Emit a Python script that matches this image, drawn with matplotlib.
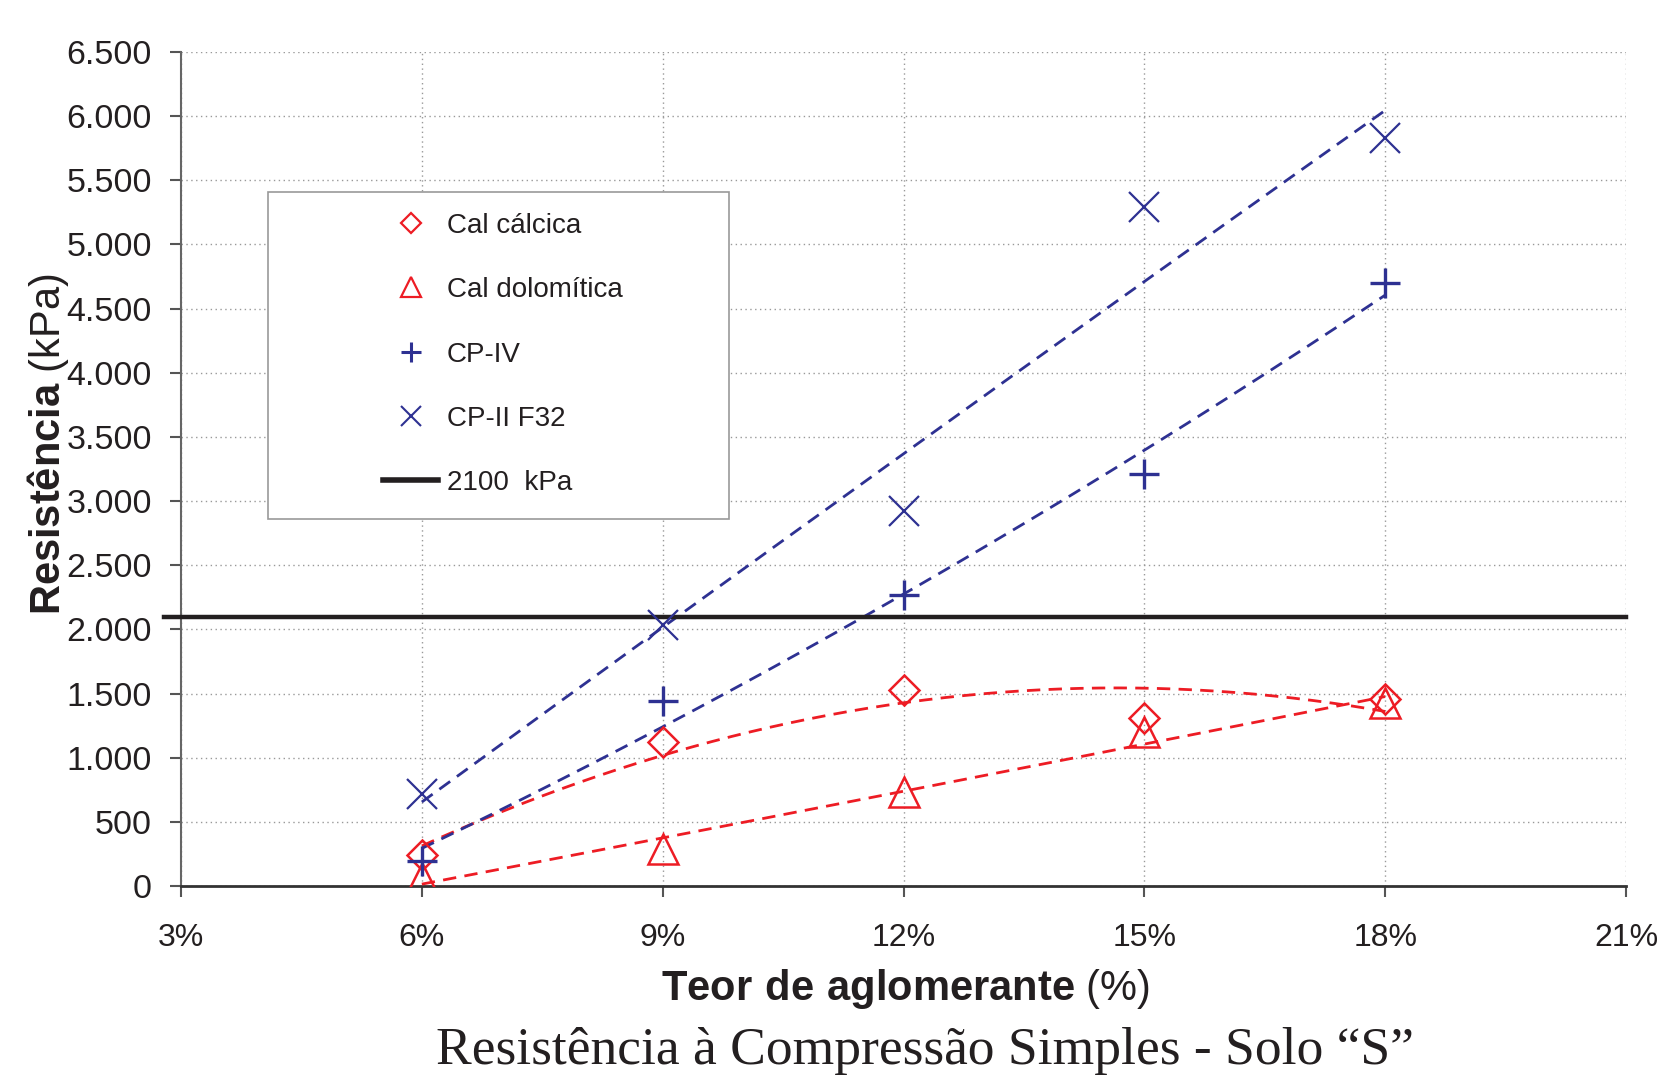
import numpy as np
import matplotlib
matplotlib.use("Agg")
import matplotlib.pyplot as plt
from matplotlib.lines import Line2D
from matplotlib.patches import Rectangle
from matplotlib.ticker import FuncFormatter, MultipleLocator

plt.rcParams['font.family'] = ['Liberation Sans', 'DejaVu Sans']
plt.rcParams['mathtext.fontset'] = 'custom'
plt.rcParams['mathtext.rm'] = 'Liberation Sans'
plt.rcParams['mathtext.bf'] = 'Liberation Sans:bold'

# teor de aglomerante (%)
teor = [6, 9, 12, 15, 18]

# resistencia (kPa)
cal_calcica = [245, 1120, 1525, 1310, 1460]
cal_dolomitica = [60, 285, 735, 1200, 1430]
cp_iv = [195, 1440, 2265, 3210, 4700]
cp_ii_f32 = [720, 2035, 2920, 5290, 5830]

limite = 2100

RED = '#ED1C24'
BLUE = '#2E3192'
BLACK = '#231F20'

fig = plt.figure(figsize=(16.61, 10.75), dpi=100)
ax = fig.add_axes([181/1661, 1 - 886/1075, (1626 - 181)/1661, (886 - 52)/1075])

# linhas de tendencia (polinomial 2a ordem)
xs = np.linspace(min(teor), max(teor), 200)
for ys, c in [(cal_calcica, RED), (cal_dolomitica, RED), (cp_iv, BLUE), (cp_ii_f32, BLUE)]:
    p = np.polyfit(teor, ys, 2)
    ax.plot(xs, np.polyval(p, xs), color=c, lw=2.0, ls=(0, (4.8, 3.0)), zorder=3)

ax.axhline(limite, xmin=-0.012, xmax=1, color=BLACK, lw=3.2, clip_on=False, zorder=4)

ax.plot(teor, cal_calcica, ls='none', marker='D', ms=15, mfc='none', mec=RED, mew=1.8, zorder=5)
ax.plot(teor, cal_dolomitica, ls='none', marker='^', ms=22, mfc='none', mec=RED, mew=1.8, zorder=5)
ax.plot(teor, cp_iv, ls='none', marker='+', ms=22, mec=BLUE, mew=2.4, zorder=5)
ax.plot(teor, cp_ii_f32, ls='none', marker='x', ms=22, mec=BLUE, mew=1.6, zorder=5)

ax.set_xlim(3, 21)
ax.set_ylim(0, 6500)
ax.xaxis.set_major_locator(MultipleLocator(3))
ax.yaxis.set_major_locator(MultipleLocator(500))
ax.xaxis.set_major_formatter(FuncFormatter(lambda v, p: f"{v:.0f}%"))
ax.yaxis.set_major_formatter(FuncFormatter(lambda v, p: f"{v:,.0f}".replace(",", ".")))

ax.grid(True, color='#999999', ls=(0, (1, 2.5)), lw=1.0)
ax.set_axisbelow(True)
for s in ['top', 'right']:
    ax.spines[s].set_visible(False)
ax.spines['left'].set_color('#666666')
ax.spines['left'].set_linewidth(1.5)
ax.spines['bottom'].set_color('#333333')
ax.spines['bottom'].set_linewidth(2)
ax.tick_params(axis='both', direction='out', length=8, width=1.5, color='#555555',
               labelcolor=BLACK)
ax.tick_params(axis='x', pad=19, labelsize=23)
ax.tick_params(axis='y', pad=13, labelsize=24.5)

fig.text(0.029, 0.587, r"$\mathbf{Resistência}$ (kPa)", rotation=90, ha='center', va='center',
         fontsize=30, color=BLACK)
fig.text(0.545, 0.070, r"$\mathbf{Teor\ de\ aglomerante}$ (%)", ha='center', va='baseline',
         fontsize=30, color=BLACK)
fig.text(0.557, 0.0102, "Resistência à Compressão Simples - Solo “S”", ha='center', va='baseline',
         fontsize=38.5, color=BLACK, family=['Liberation Serif', 'DejaVu Serif'])

# caixa da legenda
box = Rectangle((268/1661, 1 - 519/1075), (729 - 268)/1661, (519 - 192)/1075,
                transform=fig.transFigure, facecolor='white', edgecolor='#999999', lw=1.2, zorder=2)
fig.add_artist(box)

handles = [
    Line2D([], [], ls='none', marker='D', ms=10, mfc='none', mec=RED, mew=1.6),
    Line2D([], [], ls='none', marker='^', ms=14, mfc='none', mec=RED, mew=1.6),
    Line2D([], [], ls='none', marker='+', ms=14, mec=BLUE, mew=2.2),
    Line2D([], [], ls='none', marker='x', ms=14, mec=BLUE, mew=1.5),
    Line2D([], [], color=BLACK, lw=4),
]
labels = ['Cal cálcica', 'Cal dolomítica', 'CP-IV', 'CP-II F32', '2100  kPa']
leg = fig.legend(handles, labels, loc='upper left', bbox_to_anchor=(369/1661, 1 - 199/1075),
                 frameon=False, borderpad=0, handlelength=2, handletextpad=0.3,
                 labelspacing=1.38, fontsize=20, labelcolor=BLACK)
leg.set_zorder(6)

fig.savefig('out.png', dpi=100)
